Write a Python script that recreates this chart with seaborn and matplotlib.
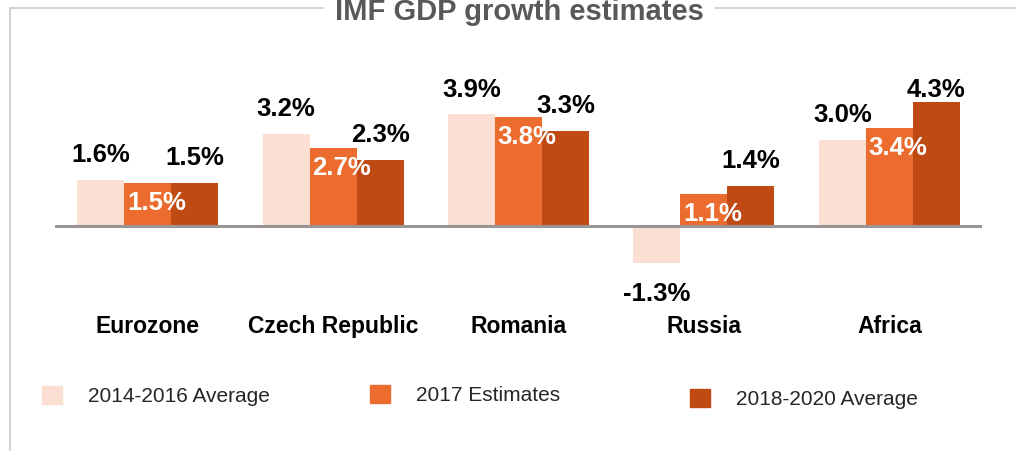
import matplotlib
matplotlib.use('Agg')
import matplotlib.pyplot as plt
import seaborn as sns
import pandas as pd
from matplotlib.lines import Line2D
from matplotlib.patches import Patch

regions = ['Eurozone', 'Czech Republic', 'Romania', 'Russia', 'Africa']
avg_2014_2016 = [1.6, 3.2, 3.9, -1.3, 3.0]
est_2017 = [1.5, 2.7, 3.8, 1.1, 3.4]
avg_2018_2020 = [1.5, 2.3, 3.3, 1.4, 4.3]
series = ['2014-2016 Average', '2017 Estimates', '2018-2020 Average']
colors = ['#FADFD2', '#EB6C2E', '#C04A13']
title = 'IMF GDP growth estimates'

sns.set_theme(style='white')
plt.rcParams['font.family'] = ['Liberation Sans', 'DejaVu Sans']

values = [avg_2014_2016, est_2017, avg_2018_2020]
df = pd.DataFrame({
    'region': regions * 3,
    'series': [s for s in series for _ in regions],
    'value': avg_2014_2016 + est_2017 + avg_2018_2020,
})

W, H = 1016, 451
fig = plt.figure(figsize=(W / 100, H / 100), dpi=100)
ax_top, ax_bot = 60, 300
ax = fig.add_axes([55 / W, 1 - ax_bot / H, 927 / W, (ax_bot - ax_top) / H])

sns.barplot(data=df, x='region', y='value', hue='series', hue_order=series,
            palette=colors, width=0.76, saturation=1, legend=False,
            errorbar=None, linewidth=0, ax=ax)

ymin, ymax = -2.569, 5.764
ax.set_xlim(-0.5, 4.5)
ax.set_ylim(ymin, ymax)
ppu = (ax_bot - ax_top) / (ymax - ymin)  # pixels per unit
ax.axhline(0, color='#9a9494', lw=2.2, zorder=3)

for sp in ax.spines.values():
    sp.set_visible(False)
ax.set_yticks([])
ax.set_xlabel('')
ax.set_ylabel('')
ax.tick_params(axis='x', length=0, pad=11)
for lab in ax.get_xticklabels():
    lab.set_fontsize(16.5)
    lab.set_fontweight('bold')
    lab.set_color('black')

# value labels
top_limit = (226 - 97) / ppu
for i, cont in enumerate(ax.containers):
    for bar, v in zip(cont, values[i]):
        txt = f'{v:.1f}%'
        xc = bar.get_x() + bar.get_width() / 2
        if i == 1:
            ax.text(bar.get_x() + 0.015, v - 20 / ppu, txt, ha='left', va='center',
                    fontsize=18.5, fontweight='bold', color='white', zorder=5)
        elif v >= 0:
            y = min(v + 18 / ppu, top_limit)
            ax.text(xc, y, txt, ha='center', va='baseline',
                    fontsize=18.5, fontweight='bold', color='black', zorder=5)
        else:
            ax.text(xc, v - 19 / ppu, txt, ha='center', va='top',
                    fontsize=18.5, fontweight='bold', color='black', zorder=5)

# legend entries placed one by one
leg_pos = [(42, 396), (370, 395), (690, 399)]
for s, c, (lx, ly) in zip(series, colors, leg_pos):
    fig.legend(handles=[Patch(color=c)], labels=[s], loc='center left',
               bbox_to_anchor=(lx / W, 1 - ly / H), bbox_transform=fig.transFigure,
               frameon=False, fontsize=15, handlelength=0.96, handleheight=0.92,
               handletextpad=1.25, borderpad=0, borderaxespad=0)

# title and frame
fig.text(519 / W, 1 - 20 / H, title, ha='center', va='baseline',
         fontsize=21, fontweight='bold', color='#595959')
frame_col = '#cfcfcf'
fig.add_artist(Line2D([10 / W, 10 / W], [0, 1 - 8 / H], transform=fig.transFigure,
                      color=frame_col, lw=1.3))
fig.add_artist(Line2D([10 / W, 323 / W], [1 - 8 / H, 1 - 8 / H], transform=fig.transFigure,
                      color=frame_col, lw=1.3))
fig.add_artist(Line2D([715 / W, 1], [1 - 8 / H, 1 - 8 / H], transform=fig.transFigure,
                      color=frame_col, lw=1.3))

fig.savefig('out.png', dpi=100)
